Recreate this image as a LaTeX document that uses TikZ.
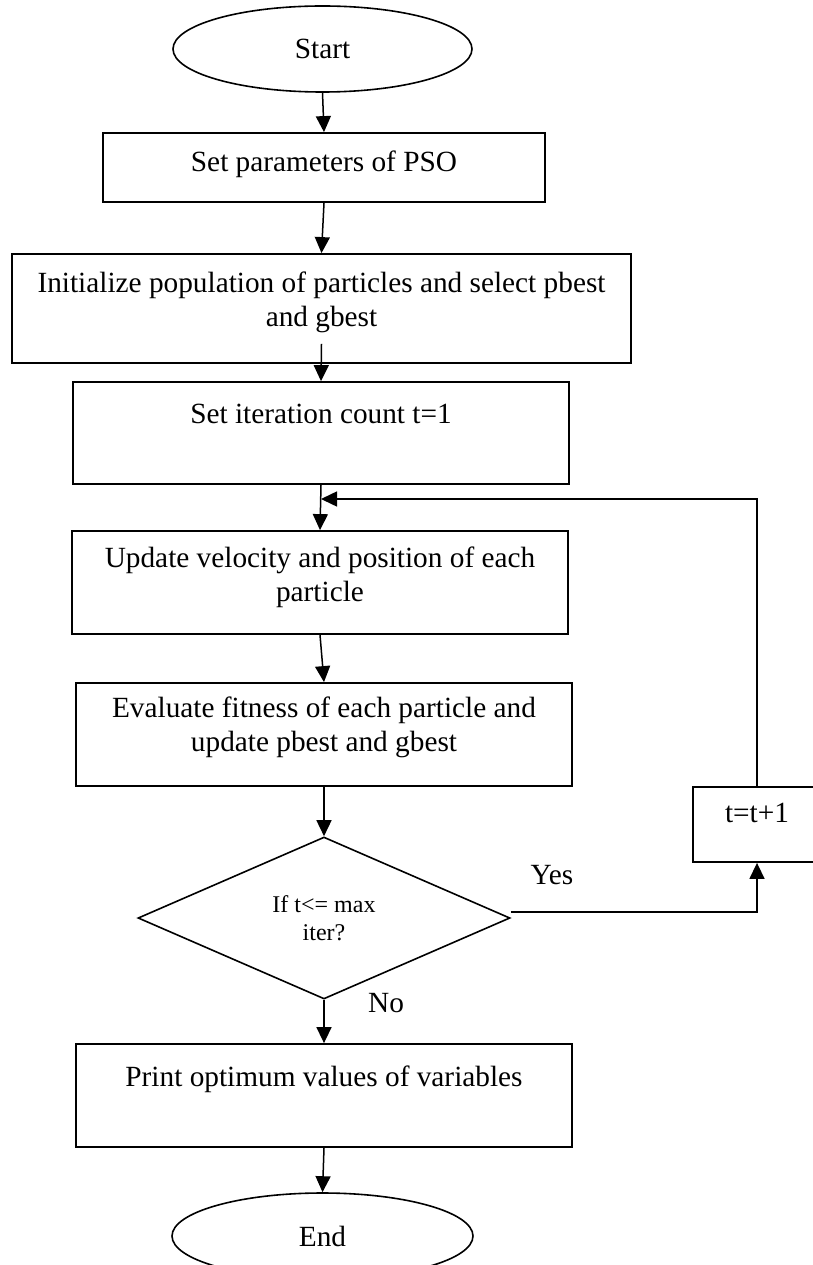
\documentclass[tikz,border=0pt]{standalone}
\usepackage{fontspec}
\setmainfont{Liberation Serif}
\usetikzlibrary{shapes.geometric,arrows.meta,positioning}

\begin{document}
\begin{tikzpicture}[x=1pt, y=-1pt,
  box/.style={draw, line width=1.8pt, rectangle, inner sep=0pt},
  term/.style={draw, line width=1.6pt, ellipse, inner sep=0pt},
  txt/.style={inner sep=0pt, align=center, font=\fontsize{29.3}{33.5}\selectfont},
  flow/.style={line width=1.5pt, -{Triangle[length=16pt, width=15pt]}}]
% Fix the page size
\useasboundingbox (0,0) rectangle (813,1265);

% Draw the terminals and the boxes
\node[term, txt, minimum width=299pt, minimum height=86pt] (start) at (322.5, 49) {Start};
\node[box, minimum width=442pt, minimum height=69pt] (params) at (324, 167.5) {};
\node[box, minimum width=619pt, minimum height=109pt] (init) at (321.5, 308.5) {};
\node[box, minimum width=496pt, minimum height=102pt] (iter) at (321, 433) {};
\node[box, minimum width=496pt, minimum height=103pt] (update) at (320, 582.5) {};
\node[box, minimum width=496pt, minimum height=103pt] (eval) at (324, 734.5) {};
\node[draw, line width=1.6pt, diamond, aspect=2.3, inner sep=0pt, align=center,
  minimum width=372pt, minimum height=162pt, font=\fontsize{24}{28}\selectfont] (check) at (324, 918) {If t<= max\\iter?};
\node[box, minimum width=128pt, minimum height=75pt] (inc) at (757, 824.5) {};
\node[box, minimum width=496pt, minimum height=103pt] (result) at (324, 1095.5) {};
\node[term, txt, minimum width=301pt, minimum height=86pt] (stop) at (322.5, 1236) {End};
\coordinate (join) at (321, 499);

% Insert the texts near the top of each box
\node[txt, below=19pt of params.north] (paramsLbl) {Set parameters of PSO};
\node[txt, below=19pt of init.north] (initLbl) {Initialize population of particles and select pbest\\and gbest};
\node[txt, below=23pt of iter.north] (iterLbl) {Set iteration count t=1};
\node[txt, below=17pt of update.north] (updateLbl) {Update velocity and position of each\\particle};
\node[txt, below=15pt of eval.north] (evalLbl) {Evaluate fitness of each particle and\\update pbest and gbest};
\node[txt, below=17pt of inc.north] (incLbl) {t=t+1};
\node[txt, below=23pt of result.north] (resultLbl) {Print optimum values of variables};
\node[txt, anchor=base] (yes) at (552, 884) {Yes};
\node[txt, anchor=base] (no) at (386, 1012) {No};

% Connect the steps
\draw[flow] (start.south) -- (params.north);
\draw[flow] (params.south) -- (init.north);
\draw[flow] ([yshift=20pt]init.south) -- (iter.north);
\draw[flow] (iter.south) -- (update.north);
\draw[flow] (update.south) -- (eval.north);
\draw[flow] (eval.south) -- (check.north);
\draw[flow] ([yshift=6pt]check.east) -| (inc.south);
\draw[flow] (inc.north) |- (join);
\draw[flow] (check.south) -- (result.north);
\draw[flow] (result.south) -- (stop.north);
\end{tikzpicture}
\end{document}
